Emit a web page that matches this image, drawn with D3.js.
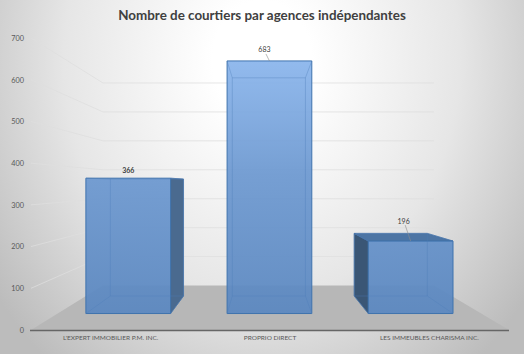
<!DOCTYPE html>
<html>
<head>
<meta charset="utf-8">
<script src="https://cdn.jsdelivr.net/npm/d3@7"></script>
<style>
  html, body { margin: 0; padding: 0; background: #fff; }
  svg { display: block; }
  text { font-family: Lato, "Open Sans", sans-serif; }
</style>
</head>
<body>
<svg id="chart"></svg>
<script>
const categories = ["L'EXPERT IMMOBILIER P.M. INC.", "PROPRIO DIRECT", "LES IMMEUBLES CHARISMA INC."];
const courtiers = [366, 683, 196];
const yTicks = [0, 100, 200, 300, 400, 500, 600, 700];
const title = "Nombre de courtiers par agences indépendantes";

const width = 524, height = 354;
const svg = d3.select("#chart").attr("width", width).attr("height", height);

// front and back planes of the 3d box
const yFront = d3.scaleLinear().domain([0, 700]).range([330, 38]);
const yBack = d3.scaleLinear().domain([0, 700]).range([285.5, 83]);
const xFront = d3.scaleBand().domain(categories).range([31, 509]);
const planeX = { front: [31, 509], back: [103, 434] };

// position along the category axis, 0..1
const u = d3.scaleBand().domain(categories).range([0, 1]).paddingInner(0.4).paddingOuter(0.2);
const depth = { near: 0.37, far: 0.764 };

function project(ux, value, t) {
  const x0 = d3.interpolateNumber(planeX.front[0], planeX.back[0])(t);
  const x1 = d3.interpolateNumber(planeX.front[1], planeX.back[1])(t);
  const y = d3.interpolateNumber(yFront(value), yBack(value))(t);
  return [x0 + (x1 - x0) * ux, y];
}

const defs = svg.append("defs");
const bg = defs.append("radialGradient").attr("id", "bg")
  .attr("gradientUnits", "userSpaceOnUse")
  .attr("gradientTransform", "translate(262,60) scale(1,1.2)")
  .attr("cx", 0).attr("cy", 0).attr("r", 330);
bg.append("stop").attr("offset", "15%").attr("stop-color", "#ffffff");
bg.append("stop").attr("offset", "60%").attr("stop-color", "#e6e6e6");
bg.append("stop").attr("offset", "100%").attr("stop-color", "#bcbcbc");

const barFill = defs.append("linearGradient").attr("id", "barFill")
  .attr("gradientUnits", "userSpaceOnUse")
  .attr("x1", 0).attr("x2", 0).attr("y1", 60).attr("y2", 314);
barFill.append("stop").attr("offset", "0%").attr("stop-color", "#8ab5ec");
barFill.append("stop").attr("offset", "45%").attr("stop-color", "#6c98d0");
barFill.append("stop").attr("offset", "100%").attr("stop-color", "#5a87c0");

svg.append("rect").attr("width", width).attr("height", height).attr("fill", "url(#bg)");

const poly = pts => pts.map(p => p.join(",")).join(" ");

// floor
svg.append("polygon")
  .attr("points", poly([project(0, 0, 0), project(0, 0, 1), project(1, 0, 1), project(1, 0, 0)]))
  .attr("fill", "#b7b7b7");

// gridlines, back wall and left wall
const grid = svg.append("g").attr("fill", "none").attr("stroke", "#dedede")
  .attr("stroke-width", 0.9).attr("stroke-opacity", 0.85);
yTicks.filter(d => d > 0).forEach(d => {
  grid.append("polyline")
    .attr("points", poly([project(0, d, 0), project(0, d, 1), project(1, d, 1)]));
});

// front axis line
svg.append("line")
  .attr("x1", 30).attr("x2", 509).attr("y1", yFront(0) + 0.5).attr("y2", yFront(0) + 0.5)
  .attr("stroke", "#666").attr("stroke-width", 1.5);

// bars
categories.forEach((c, i) => {
  const v = courtiers[i];
  const a = u(c), b = a + u.bandwidth();
  const n = depth.near, f = depth.far;
  const g = svg.append("g");

  const fl = project(a, v, f), fr = project(b, v, f), flb = project(a, 0, f), frb = project(b, 0, f);
  const nl = project(a, v, n), nr = project(b, v, n), nlb = project(a, 0, n), nrb = project(b, 0, n);

  const sideStroke = "#3f6c9f";
  // outer faces seen from outside
  if (fr[0] > nr[0] + 10) {
    g.append("polygon").attr("points", poly([nr, fr, frb, nrb]))
      .attr("fill", "#4a6a8f").attr("stroke", sideStroke).attr("stroke-width", 0.7);
  }
  if (fl[0] < nl[0] - 10) {
    g.append("polygon").attr("points", poly([nl, fl, flb, nlb]))
      .attr("fill", "#3a5675").attr("stroke", sideStroke).attr("stroke-width", 0.7);
  }
  if (fl[1] < nl[1] - 2) {
    g.append("polygon").attr("points", poly([nl, fl, fr, nr]))
      .attr("fill", "#4d75a4").attr("stroke", sideStroke).attr("stroke-width", 0.7);
  }

  // front face
  g.append("polygon").attr("points", poly([nl, nr, nrb, nlb]))
    .attr("fill", "url(#barFill)").attr("fill-opacity", 0.93)
    .attr("stroke", "#3f73ad").attr("stroke-width", 1);

  // inner edges, seen through the front
  const edge = (p, q) => g.append("line")
    .attr("x1", p[0]).attr("y1", p[1]).attr("x2", q[0]).attr("y2", q[1])
    .attr("stroke", "#4f7fb8").attr("stroke-width", 0.6).attr("stroke-opacity", 0.6);
  edge(fl, fr); edge(fr, frb); edge(frb, flb); edge(flb, fl);
  edge(nl, fl); edge(nr, fr); edge(nlb, flb); edge(nrb, frb);
});

// data labels, the last two carry a callout line
categories.forEach((c, i) => {
  const v = courtiers[i];
  const mid = u(c) + u.bandwidth() / 2;
  const anchor = project(mid, v, depth.near);
  if (i === 0) {
    svg.append("text").attr("x", anchor[0]).attr("y", anchor[1] - 5.5)
      .attr("text-anchor", "middle").attr("font-size", 7).attr("font-weight", 700)
      .attr("fill", "#404040").text(v);
  } else {
    const lx = i === 1 ? anchor[0] - 5 : anchor[0] - 7;
    const ly = i === 1 ? anchor[1] - 8 : anchor[1] - 17;
    svg.append("line").attr("x1", lx + 1.5).attr("y1", ly + 1).attr("x2", anchor[0]).attr("y2", anchor[1])
      .attr("stroke", "#8c8c8c").attr("stroke-width", 0.6);
    svg.append("text").attr("x", lx).attr("y", ly - 0.5)
      .attr("text-anchor", "middle").attr("font-size", 7)
      .attr("fill", "#404040").text(v);
  }
});

// y axis
const yAxis = svg.append("g").attr("transform", "translate(24,0)")
  .call(d3.axisLeft(yFront).tickValues(yTicks).tickSize(0).tickPadding(0));
yAxis.select(".domain").remove();
yAxis.selectAll("text").attr("font-size", 7.3).attr("fill", "#595959").style("font-family", null);

// category axis
const xAxis = svg.append("g").attr("transform", "translate(0,335)")
  .call(d3.axisBottom(xFront).tickSize(0).tickPadding(0));
xAxis.select(".domain").remove();
xAxis.selectAll("text").attr("font-size", 6.5).attr("fill", "#595959").style("font-family", null);

// title
svg.append("text").attr("x", 262).attr("y", 20).attr("text-anchor", "middle")
  .attr("font-size", 13.4).attr("font-weight", 700).attr("fill", "#404040").text(title);
</script>
</body>
</html>
